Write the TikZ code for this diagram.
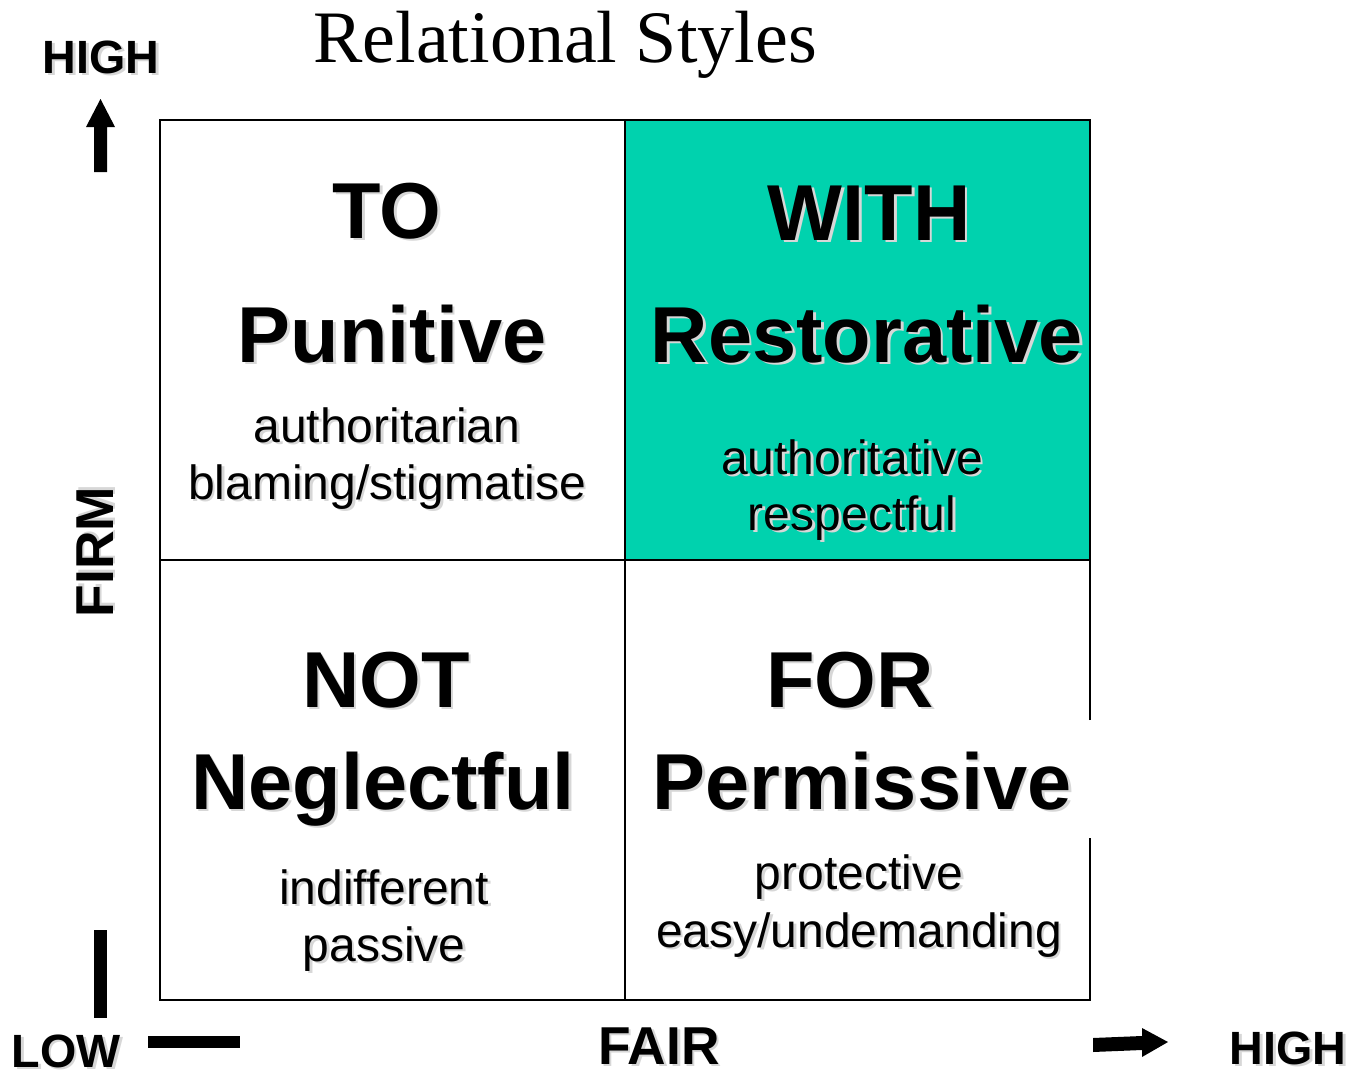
\documentclass[tikz,border=0pt]{standalone}
\usepackage{fontspec}
\setmainfont{Liberation Sans}
\newfontfamily\titlefont{Liberation Serif}
\definecolor{tealfill}{RGB}{0,210,174}
\definecolor{shadowc}{RGB}{215,215,215}
\newcommand{\sh}[1]{\rlap{\kern2pt\raisebox{-2pt}{\textcolor{shadowc}{#1}}}#1}
\begin{document}
\begin{tikzpicture}[x=0.75pt,y=-0.75pt,
  head/.style={anchor=base,inner sep=0pt,font=\fontsize{59.5pt}{61pt}\selectfont\bfseries},
  sub/.style={anchor=base,inner sep=0pt,font=\fontsize{36pt}{37pt}\selectfont},
  axis/.style={anchor=base,inner sep=0pt,font=\fontsize{35pt}{36pt}\selectfont\bfseries},
  bigaxis/.style={anchor=base,inner sep=0pt,font=\fontsize{40pt}{41pt}\selectfont\bfseries},
  gridline/.style={line width=2pt,black},
  arrowfill/.style={fill=black}]
\useasboundingbox (0,0) rectangle (1350,1075);
% teal cell
\fill[tealfill] (625,120) rectangle (1090,560);
% grid
\draw[gridline] (1090,720) -- (1090,120) -- (160,120) -- (160,1000) -- (1090,1000) -- (1090,838);
\draw[gridline] (625,120) -- (625,1000);
\draw[gridline] (160,560) -- (1090,560);
% title
\node[anchor=base,inner sep=0pt,font=\titlefont\fontsize{55.5pt}{57pt}\selectfont] (title) at (565,62) {Relational Styles};
% axes
\node[axis] (hightop) at (101,73) {\sh{HIGH}};
\node[axis] (low) at (66,1067) {\sh{LOW}};
\node[bigaxis] (fair) at (659,1064) {\sh{FAIR}};
\node[axis] (highright) at (1288,1064) {\sh{HIGH}};
\node[bigaxis,anchor=center,rotate=90] (firm) at (96,552) {\sh{FIRM}};
% arrows and bars
\fill[arrowfill] (94,172) -- (94,127) -- (86,127) -- (100.5,99) -- (115,127) -- (107,127) -- (107,172) -- cycle;
\fill[arrowfill] (94,930) rectangle (107,1018);
\fill[arrowfill] (148,1036) rectangle (240,1048);
\fill[arrowfill] (1093,1038) -- (1142,1036) -- (1142,1028) -- (1168,1042) -- (1142,1057) -- (1142,1050) -- (1093,1052) -- cycle;
% top-left
\node[head] (to) at (387,238) {\sh{TO}};
\node[head] (punitive) at (392,362) {\sh{Punitive}};
\node[sub] (authoritarian) at (387,442) {\sh{authoritarian}};
\node[sub] (blaming) at (387,499) {\sh{blaming/stigmatise}};
% top-right
\node[head] (with) at (869,240) {\sh{WITH}};
\node[head] (restorative) at (867,362) {\sh{Restorative}};
\node[sub] (authoritative) at (852,474) {\sh{authoritative}};
\node[sub] (respectful) at (852,530) {\sh{respectful}};
% bottom-left
\node[head] (not) at (386,707) {\sh{NOT}};
\node[head] (neglectful) at (383,809) {\sh{Neglectful}};
\node[sub] (indifferent) at (384,904) {\sh{indifferent}};
\node[sub] (passive) at (384,961) {\sh{passive}};
% bottom-right
\node[head] (for) at (850,707) {\sh{FOR}};
\node[head] (permissive) at (862,809) {\sh{Permissive}};
\node[sub] (protective) at (859,889) {\sh{protective}};
\node[sub] (easy) at (859,947) {\sh{easy/undemanding}};
\end{tikzpicture}
\end{document}
